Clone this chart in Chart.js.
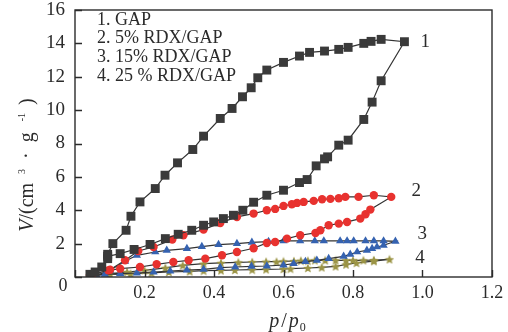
<!DOCTYPE html>
<html>
<head>
<meta charset="utf-8">
<script src="https://cdn.jsdelivr.net/npm/chart.js@4.4.1/dist/chart.umd.min.js"></script>
<style>
  html, body { margin: 0; padding: 0; background: #fff; }
  #wrap { width: 508px; height: 332px; }
</style>
</head>
<body>
<div id="wrap"><canvas id="c"></canvas></div>
<script>
// 1. GAP  (squares) - path: up the steep branch, over the top, back down
const gapP = [0.043, 0.058, 0.077, 0.094, 0.094, 0.109, 0.147, 0.161, 0.187, 0.231, 0.259, 0.295, 0.339, 0.370, 0.418, 0.452, 0.482, 0.507, 0.526, 0.552, 0.600, 0.646, 0.675, 0.718, 0.759, 0.786, 0.831, 0.852, 0.881, 0.948,
              0.881, 0.855, 0.831, 0.786, 0.759, 0.727, 0.718, 0.694, 0.668, 0.646, 0.600, 0.552, 0.514, 0.483, 0.456, 0.427, 0.399, 0.370, 0.336, 0.297, 0.260, 0.216, 0.170, 0.130, 0.094];
const gapV = [0.16, 0.30, 0.60, 1.10, 1.36, 2.00, 2.80, 3.64, 4.50, 5.30, 6.10, 6.84, 7.64, 8.44, 9.50, 10.10, 10.80, 11.34, 11.94, 12.40, 12.86, 13.24, 13.46, 13.54, 13.64, 13.76, 14.00, 14.12, 14.24, 14.10,
              11.76, 10.48, 9.44, 8.20, 7.90, 7.20, 7.08, 6.66, 5.84, 5.66, 5.20, 4.90, 4.48, 4.00, 3.70, 3.50, 3.30, 3.10, 2.80, 2.56, 2.30, 1.95, 1.65, 1.40, 1.24];

// 2. 5% RDX/GAP  (circles)
const rdx5P = [0.050, 0.096, 0.130, 0.187, 0.235, 0.283, 0.327, 0.375, 0.423, 0.466, 0.514, 0.552, 0.576, 0.610, 0.648, 0.692, 0.706, 0.730, 0.759, 0.783, 0.821, 0.836, 0.850, 0.910,
               0.860, 0.816, 0.778, 0.759, 0.735, 0.711, 0.687, 0.658, 0.639, 0.624, 0.600, 0.576, 0.552, 0.514, 0.466, 0.418, 0.370, 0.312, 0.280, 0.226, 0.182, 0.144, 0.101, 0.043];
const rdx5V = [0.15, 0.40, 0.50, 0.60, 0.76, 0.90, 1.00, 1.10, 1.30, 1.50, 1.72, 2.04, 2.10, 2.30, 2.50, 2.64, 2.80, 3.10, 3.20, 3.30, 3.50, 3.76, 4.04, 4.80,
               4.90, 4.80, 4.80, 4.72, 4.68, 4.66, 4.56, 4.50, 4.44, 4.36, 4.26, 4.08, 4.00, 3.80, 3.60, 3.24, 2.84, 2.50, 2.24, 1.80, 1.56, 1.00, 0.44, 0.10];

// 3. 15% RDX/GAP  (triangles)
const rdx15P = [0.060, 0.086, 0.130, 0.178, 0.226, 0.274, 0.322, 0.370, 0.418, 0.461, 0.508, 0.552, 0.600, 0.629, 0.663, 0.696, 0.730, 0.773, 0.792, 0.812, 0.840, 0.855, 0.869, 0.888, 0.922,
                0.888, 0.860, 0.836, 0.802, 0.783, 0.763, 0.716, 0.690, 0.648, 0.600, 0.557, 0.509, 0.466, 0.413, 0.365, 0.322, 0.264, 0.231, 0.178, 0.144, 0.101, 0.062];
const rdx15V = [0.12, 0.16, 0.20, 0.24, 0.30, 0.36, 0.42, 0.46, 0.56, 0.60, 0.64, 0.66, 0.72, 0.80, 0.92, 1.00, 1.10, 1.24, 1.36, 1.50, 1.60, 1.70, 1.80, 1.90, 2.14,
                2.16, 2.16, 2.16, 2.16, 2.16, 2.16, 2.16, 2.16, 2.16, 2.16, 2.12, 2.08, 2.00, 1.94, 1.82, 1.70, 1.60, 1.50, 1.30, 0.94, 0.40, 0.10];

// 4. 25 % RDX/GAP  (stars)
const rdx25P = [0.050, 0.100, 0.160, 0.220, 0.270, 0.330, 0.370, 0.420, 0.460, 0.510, 0.550, 0.600, 0.620, 0.670, 0.710, 0.750, 0.780, 0.810, 0.860, 0.905,
                0.860, 0.830, 0.800, 0.780, 0.750, 0.720, 0.690, 0.670, 0.650, 0.630, 0.600, 0.580, 0.550, 0.510, 0.470, 0.420, 0.370, 0.310, 0.260, 0.200, 0.150, 0.100, 0.043];
const rdx25V = [0.10, 0.15, 0.20, 0.25, 0.30, 0.34, 0.38, 0.40, 0.42, 0.44, 0.46, 0.48, 0.50, 0.54, 0.58, 0.64, 0.75, 0.85, 0.95, 1.06,
                1.02, 1.00, 1.00, 1.00, 1.00, 1.00, 1.00, 0.98, 0.98, 0.96, 0.94, 0.92, 0.92, 0.90, 0.88, 0.85, 0.80, 0.70, 0.55, 0.40, 0.30, 0.20, 0.10];

const legendLines = ['1. GAP', '2. 5% RDX/GAP', '3. 15% RDX/GAP', '4. 25 % RDX/GAP'];
const curveTags = ['1', '2', '3', '4'];

const SERIF = "'Liberation Serif', 'DejaVu Serif', serif";
const INK = '#2b2b2b';

function pts(xs, ys) {
  return xs.map((x, i) => ({ x, y: ys[i] }));
}

// filled five-point star for the last series
function starImage(color, size) {
  const cv = document.createElement('canvas');
  cv.width = size; cv.height = size;
  const g = cv.getContext('2d');
  const cx = size / 2, cy = size / 2 + 0.5, ro = size / 2, ri = ro * 0.45;
  g.beginPath();
  for (let i = 0; i < 10; i++) {
    const r = i % 2 ? ri : ro;
    const a = -Math.PI / 2 + i * Math.PI / 5;
    g.lineTo(cx + r * Math.cos(a), cy + r * Math.sin(a));
  }
  g.closePath();
  g.fillStyle = color;
  g.fill();
  return cv;
}

function series(data, color, style, radius) {
  return {
    data,
    showLine: true,
    borderColor: '#333',
    borderWidth: 1.2,
    pointStyle: style,
    pointRadius: radius,
    pointBackgroundColor: color,
    pointBorderColor: color,
    pointBorderWidth: 0,
    tension: 0,
  };
}

// rich text helper: segments drawn one after another, centred on (0,0)
// pre = extra gap before a segment (the source figure is loosely spaced)
function drawRich(ctx, segs, size) {
  const fontOf = s => `${s.it ? 'italic ' : ''}${s.sup ? Math.round(size * 0.5) : s.sub ? Math.round(size * 0.6) : size}px ${SERIF}`;
  let total = 0;
  segs.forEach(s => { ctx.font = fontOf(s); total += (s.pre || 0) + ctx.measureText(s.t).width; });
  let x = -total / 2;
  segs.forEach(s => {
    ctx.font = fontOf(s);
    x += s.pre || 0;
    const dy = s.sup ? -size * 0.42 : s.sub ? size * 0.22 : 0;
    ctx.fillText(s.t, x, dy);
    x += ctx.measureText(s.t).width;
  });
}

const framePlugin = {
  id: 'frame',
  afterDraw(chart) {
    const { ctx, chartArea: a, scales } = chart;
    ctx.save();
    ctx.strokeStyle = INK;
    ctx.lineWidth = 1.4;
    ctx.strokeRect(a.left, a.top, a.right - a.left, a.bottom - a.top);

    // inward ticks
    ctx.beginPath();
    scales.x.ticks.forEach(t => {
      const px = Math.round(scales.x.getPixelForValue(t.value)) + 0.5;
      ctx.moveTo(px, a.bottom); ctx.lineTo(px, a.bottom - 7);
    });
    scales.y.ticks.forEach(t => {
      const py = Math.round(scales.y.getPixelForValue(t.value)) + 0.5;
      ctx.moveTo(a.left, py); ctx.lineTo(a.left + 7, py);
    });
    ctx.stroke();

    ctx.fillStyle = INK;
    ctx.textBaseline = 'middle';

    // shared origin label
    ctx.font = `18px ${SERIF}`;
    ctx.textAlign = 'center';
    ctx.fillText('0', a.left - 12, a.bottom + 9);

    // legend text
    ctx.textAlign = 'left';
    ctx.font = `18px ${SERIF}`;
    legendLines.forEach((s, i) => ctx.fillText(s, a.left + 22, a.top + 10 + i * 18.7));

    // curve numbers
    const tagPos = [[1.006, 14.08], [0.98, 5.14], [0.997, 2.56], [0.991, 1.12]];
    ctx.font = `19px ${SERIF}`;
    curveTags.forEach((s, i) => {
      ctx.fillText(s, scales.x.getPixelForValue(tagPos[i][0]) - 4, scales.y.getPixelForValue(tagPos[i][1]));
    });

    // axis titles
    ctx.textAlign = 'left';
    ctx.textBaseline = 'alphabetic';
    ctx.save();
    ctx.translate(33, 165);
    ctx.rotate(-Math.PI / 2);
    drawRich(ctx, [
      { t: 'V', it: true }, { t: '/(cm' }, { t: '3', sup: true, pre: 9 },
      { t: '·', pre: 10 }, { t: 'g', pre: 10 }, { t: '-1', sup: true, pre: 11 }, { t: ')', pre: 8 },
    ], 20);
    ctx.restore();

    ctx.save();
    ctx.translate((a.left + a.right) / 2 + 4, 327);
    drawRich(ctx, [{ t: 'p', it: true }, { t: '/', pre: 2 }, { t: 'p', it: true, pre: 2 }, { t: '0', sub: true, pre: 1 }], 20);
    ctx.restore();
    ctx.restore();
  },
};

new Chart(document.getElementById('c'), {
  type: 'scatter',
  data: {
    datasets: [
      series(pts(gapP, gapV), '#3a3a3a', 'rect', 6.3),
      series(pts(rdx5P, rdx5V), '#e8322f', 'circle', 4.2),
      series(pts(rdx15P, rdx15V), '#3562b0', 'triangle', 4.8),
      series(pts(rdx25P, rdx25V), '#9b9445', starImage('#9b9445', 10), 5),
    ],
  },
  options: {
    responsive: true,
    maintainAspectRatio: false,
    animation: false,
    layout: { padding: { left: 0, right: 16, top: 10, bottom: 0 } },
    plugins: { legend: { display: false }, tooltip: { enabled: false } },
    scales: {
      x: {
        type: 'linear', min: 0, max: 1.2,
        afterFit: s => { s.height = 55; s.paddingLeft = 0; s.paddingRight = 0; },
        grid: { display: false, drawTicks: false },
        border: { display: false },
        ticks: {
          stepSize: 0.2, padding: 5, color: INK, maxRotation: 0,
          font: { family: SERIF, size: 18 },
          callback: v => (v === 0 ? '' : v.toFixed(1)),
        },
      },
      y: {
        type: 'linear', min: 0, max: 16,
        afterFit: s => { s.width = 75; s.paddingTop = 0; s.paddingBottom = 0; },
        grid: { display: false, drawTicks: false },
        border: { display: false },
        ticks: {
          stepSize: 2, padding: 10, color: INK,
          font: { family: SERIF, size: 19 },
          callback: v => (v === 0 ? '' : v),
        },
      },
    },
  },
  plugins: [framePlugin],
});
</script>
</body>
</html>
